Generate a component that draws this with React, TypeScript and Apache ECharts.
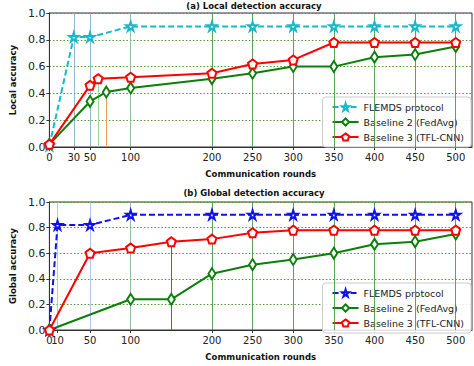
import React, { useEffect, useRef } from "react";
import * as echarts from "echarts";

// ---- data: (a) local detection accuracy ----
const topTicks = [0, 30, 50, 100, 200, 250, 300, 350, 400, 450, 500];
const topFlemdsX = [0, 30, 50, 100, 200, 250, 300, 350, 400, 450, 500];
const topFlemdsY = [0.01, 0.82, 0.82, 0.9, 0.9, 0.9, 0.9, 0.9, 0.9, 0.9, 0.9];
const topFedAvgX = [0, 50, 70, 100, 200, 250, 300, 350, 400, 450, 500];
const topFedAvgY = [0.02, 0.34, 0.41, 0.44, 0.51, 0.55, 0.6, 0.6, 0.67, 0.69, 0.75];
const topTflX = [0, 50, 60, 100, 200, 250, 300, 350, 400, 450, 500];
const topTflY = [0.02, 0.46, 0.51, 0.52, 0.55, 0.62, 0.65, 0.78, 0.78, 0.78, 0.78];

// ---- data: (b) global detection accuracy ----
const botTicks = [0, 10, 50, 100, 200, 250, 300, 350, 400, 450, 500];
const botFlemdsX = [0, 10, 50, 100, 200, 250, 300, 350, 400, 450, 500];
const botFlemdsY = [0, 0.82, 0.82, 0.9, 0.9, 0.9, 0.9, 0.9, 0.9, 0.9, 0.9];
const botFedAvgX = [0, 100, 150, 200, 250, 300, 350, 400, 450, 500];
const botFedAvgY = [0, 0.24, 0.24, 0.44, 0.51, 0.55, 0.6, 0.67, 0.69, 0.75];
const botTflX = [0, 50, 100, 150, 200, 250, 300, 350, 400, 450, 500];
const botTflY = [0, 0.6, 0.64, 0.69, 0.71, 0.76, 0.78, 0.78, 0.78, 0.78, 0.78];

const seriesNames = ["FLEMDS protocol", "Baseline 2 (FedAvg)", "Baseline 3 (TFL-CNN)"];

const FONT = "DejaVu Sans";
const STAR = "path://M50,0 L61,35 L98,35 L68,57 L79,91 L50,70 L21,91 L32,57 L2,35 L39,35 Z";
const PENTA = "path://M50,2 L97,36 L79,92 L21,92 L3,36 Z";

const zip = (xs: number[], ys: number[]) => xs.map((x, i) => [x, ys[i]]);

interface Cfg {
  title: string;
  titleTop: number;
  gridTop: number;
  gridHeight: number;
  yName: string;
  ticks: number[];
  flemdsColor: string;
  flemds: number[][];
  fedavg: number[][];
  tfl: number[][];
  stems: { pt: number[]; color: string }[];
  legendTop: number;
  lowColor: string;
}

function makeOption(c: Cfg): any {
  const vlines = c.ticks
    .filter((t) => t > 0)
    .map((t) => ({
      xAxis: t,
      lineStyle: {
        color: t < 100 ? c.lowColor : t < 200 ? "#7fae7f" : "#3f9440",
        width: 1,
        type: "solid",
        opacity: t < 200 ? 0.8 : 0.85,
      },
    }));
  const stems = c.stems.map((s) => [
    { coord: [s.pt[0], 0], lineStyle: { color: s.color, width: 1, type: "solid" } },
    { coord: [s.pt[0], s.pt[1]] },
  ]);
  const mk = (name: string, color: string, data: number[][], symbol: string, size: any, dashed: boolean) => ({
    type: "line",
    name,
    data,
    z: 5,
    symbol,
    symbolSize: size,
    showSymbol: true,
    lineStyle: { color, width: 2, type: dashed ? [6, 3] : "solid" },
    itemStyle: { color: "#ffffff", borderColor: color, borderWidth: 2 },
    emphasis: { disabled: true },
  });
  const labelStyle = {
    fontSize: 10,
    fontFamily: FONT,
    color: "#222",
    margin: 5,
    showMinLabel: true,
    showMaxLabel: true,
    hideOverlap: false,
    interval: 0,
  };
  const firstTick = c.ticks.slice(0, 1);
  const restTicks = c.ticks.slice(1);
  return {
    animation: false,
    title: {
      text: c.title,
      left: 254,
      top: c.titleTop,
      padding: 0,
      textAlign: "center",
      textStyle: { fontSize: 8.5, fontWeight: "bold", fontFamily: FONT, color: "#111" },
    },
    grid: {
      left: 36,
      top: c.gridTop,
      width: 436,
      height: c.gridHeight,
      show: true,
      borderColor: "#333",
      borderWidth: 1,
    },
    legend: {
      orient: "vertical",
      right: 3,
      top: c.legendTop,
      padding: [5, 7, 5, 9],
      itemWidth: 26,
      itemHeight: 9,
      itemGap: 5,
      backgroundColor: "rgba(255,255,255,0.85)",
      borderColor: "#cccccc",
      borderWidth: 1,
      borderRadius: 3,
      textStyle: { fontSize: 9.5, fontFamily: FONT, color: "#222" },
      data: seriesNames,
    },
    xAxis: [
      {
        type: "value",
        min: 0,
        max: 520,
        name: "Communication rounds",
        nameLocation: "middle",
        nameGap: 22,
        nameTextStyle: { fontSize: 8.5, fontWeight: "bold", fontFamily: FONT, color: "#111" },
        axisLine: { show: true, lineStyle: { color: "#333" } },
        axisTick: { show: true, customValues: c.ticks, length: 3, lineStyle: { color: "#333" } },
        axisLabel: { ...labelStyle, customValues: restTicks },
        splitLine: { show: false },
      },
      {
        type: "value",
        min: 0,
        max: 520,
        position: "bottom",
        axisLine: { show: false },
        axisTick: { show: false },
        axisLabel: { ...labelStyle, customValues: firstTick },
        splitLine: { show: false },
      },
    ],
    yAxis: {
      type: "value",
      min: 0,
      max: 1,
      interval: 0.2,
      name: c.yName,
      nameLocation: "middle",
      nameGap: 28,
      nameTextStyle: { fontSize: 8.5, fontWeight: "bold", fontFamily: FONT, color: "#111" },
      axisLine: { show: true, lineStyle: { color: "#333" } },
      axisTick: { show: true, length: 3, lineStyle: { color: "#333" } },
      axisLabel: {
        fontSize: 11,
        fontFamily: FONT,
        color: "#222",
        margin: 4,
        formatter: (v: number) => v.toFixed(1),
      },
      splitLine: { show: true, lineStyle: { color: "#4f9a30", type: [1.5, 2], width: 1 } },
    },
    series: [
      {
        type: "line",
        name: "_guides",
        data: [],
        z: 1,
        silent: true,
        markLine: {
          silent: true,
          symbol: "none",
          label: { show: false },
          animation: false,
          data: [...vlines, ...stems],
        },
      },
      mk(seriesNames[0], c.flemdsColor, c.flemds, STAR, 9, true),
      mk(seriesNames[1], "#0a800a", c.fedavg, "diamond", [7, 11], false),
      mk(seriesNames[2], "#ff0000", c.tfl, PENTA, 9, false),
    ],
  };
}

const topCfg: Cfg = {
  title: "(a) Local detection accuracy",
  titleTop: 1,
  gridTop: 13,
  gridHeight: 137,
  yName: "Local accuracy",
  ticks: topTicks,
  flemdsColor: "#17b9c9",
  flemds: zip(topFlemdsX, topFlemdsY),
  fedavg: zip(topFedAvgX, topFedAvgY),
  tfl: zip(topTflX, topTflY),
  stems: [
    { pt: [topTflX[2], topTflY[2]], color: "#9fd29f" },
    { pt: [topFedAvgX[2], topFedAvgY[2]], color: "#f0a050" },
  ],
  legendTop: 97,
  lowColor: "#7aa6bd",
};

const botCfg: Cfg = {
  title: "(b) Global detection accuracy",
  titleTop: 5,
  gridTop: 19,
  gridHeight: 136,
  yName: "Global accuracy",
  ticks: botTicks,
  flemdsColor: "#1010f0",
  flemds: zip(botFlemdsX, botFlemdsY),
  fedavg: zip(botFedAvgX, botFedAvgY),
  tfl: zip(botTflX, botTflY),
  stems: [{ pt: [botTflX[3], botTflY[3]], color: "#2e8b2e" }],
  legendTop: 100,
  lowColor: "#9fb6e6",
};

function Chart({ cfg, top }: { cfg: Cfg; top: number }) {
  const ref = useRef<HTMLDivElement>(null);
  useEffect(() => {
    if (!ref.current) return;
    const chart = echarts.init(ref.current, undefined, { renderer: "svg" });
    chart.setOption(makeOption(cfg));
    return () => chart.dispose();
  }, [cfg]);
  return (
    <div
      ref={ref}
      style={{ position: "absolute", left: 0, top, width: 474, height: 183 }}
    />
  );
}

export default function App() {
  return (
    <div style={{ position: "fixed", left: 0, top: 0, width: 474, height: 366, background: "#fff" }}>
      <Chart cfg={topCfg} top={0} />
      <Chart cfg={botCfg} top={183} />
    </div>
  );
}
